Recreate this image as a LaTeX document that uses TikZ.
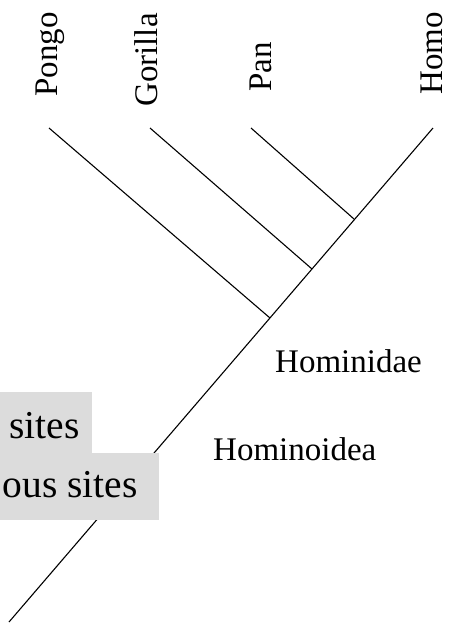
\documentclass[tikz,border=0pt]{standalone}
\usepackage{fontspec}
\setmainfont{Liberation Serif}
\definecolor{boxgray}{RGB}{220,220,220}
\begin{document}
\begin{tikzpicture}[x=1pt,y=1pt,
  branch/.style={line width=1.1pt,black},
  taxon/.style={rotate=90,anchor=base west,inner sep=0pt,font=\fontsize{33}{40}\selectfont},
  clade/.style={anchor=base west,inner sep=0pt,font=\fontsize{33}{40}\selectfont},
  boxtext/.style={anchor=base east,inner sep=0pt,font=\fontsize{39.5}{46}\selectfont},
  shade/.style={fill=boxgray,draw=none}]
\useasboundingbox (0,0) rectangle (449,-625);
\clip (0,0) rectangle (449,-625);
% coordinates
\coordinate (root) at (9,-622);
\coordinate (topH) at (433,-128);
\coordinate (topPo) at (49,-128);
\coordinate (topG) at (150,-128);
\coordinate (topPa) at (251,-128);
\coordinate (j1) at (270,-318);
\coordinate (j2) at (312,-269);
\coordinate (j3) at (354,-219);
% branches
\draw[branch] (root) -- (topH);
\draw[branch] (topPo) -- (j1);
\draw[branch] (topG) -- (j2);
\draw[branch] (topPa) -- (j3);
% taxa labels
\node[taxon] (pongo) at (57,-97) {Pongo};
\node[taxon] (gorilla) at (157,-107) {Gorilla};
\node[taxon] (pan) at (271,-92) {Pan};
\node[taxon] (homo) at (442,-95) {Homo};
% clade labels
\node[clade] (hominidae) at (275,-372) {Hominidae};
\node[clade] (hominoidea) at (213,-460) {Hominoidea};
% shaded boxes
\fill[shade] (0,-392) rectangle (92,-453);
\fill[shade] (0,-453) rectangle (159,-520);
\node[boxtext] (sites1) at (80,-438) {sites};
\node[boxtext] (sites2) at (138,-497) {ous sites};
\end{tikzpicture}
\end{document}
